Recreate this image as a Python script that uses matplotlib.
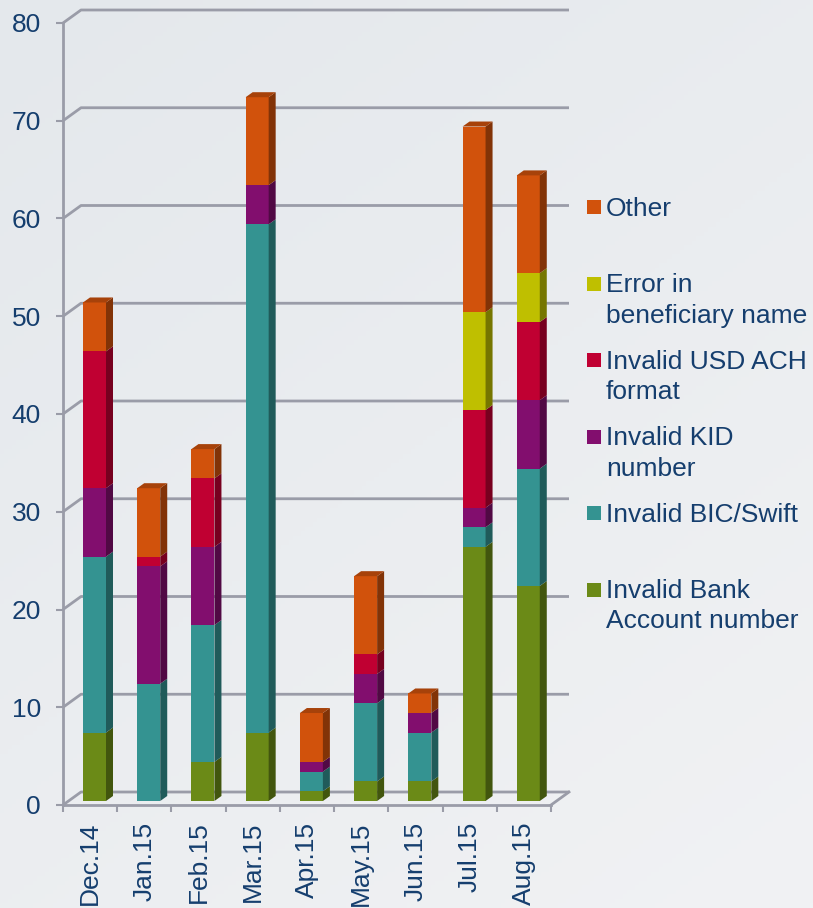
import numpy as np
import matplotlib.pyplot as plt
from matplotlib.patches import Polygon, Rectangle
from matplotlib.colors import to_rgb

plt.rcParams['font.family'] = ['Liberation Sans', 'DejaVu Sans']

months = ['Dec.14', 'Jan.15', 'Feb.15', 'Mar.15', 'Apr.15', 'May.15', 'Jun.15', 'Jul.15', 'Aug.15']
bank_account = [7, 0, 4, 7, 1, 2, 2, 26, 22]
bic_swift = [18, 12, 14, 52, 2, 8, 5, 2, 12]
kid_number = [7, 12, 8, 4, 1, 3, 2, 2, 7]
usd_ach = [14, 1, 7, 0, 0, 2, 0, 10, 8]
beneficiary = [0, 0, 0, 0, 0, 0, 0, 10, 5]
other = [5, 7, 3, 9, 5, 8, 2, 19, 10]

series = [bank_account, bic_swift, kid_number, usd_ach, beneficiary, other]
labels = ['Invalid Bank\nAccount number', 'Invalid BIC/Swift', 'Invalid KID\nnumber',
          'Invalid USD ACH\nformat', 'Error in\nbeneficiary name', 'Other']
colors = ['#6b8a17', '#349391', '#820e6e', '#c00032', '#bfbf00', '#d1520c']

text_col = '#153e6e'
grid_col = '#9a9ca8'
fs = 19

W, H = 813, 908
fig = plt.figure(figsize=(W / 100, H / 100), dpi=100)

# background gradient
bg = fig.add_axes([0, 0, 1, 1], zorder=-10)
yy, xx = np.mgrid[0:1:200j, 0:1:200j]
t = 0.6 * yy + 0.4 * xx
c0 = np.array(to_rgb('#e4e8ec'))
c1 = np.array(to_rgb('#f1f2f4'))
img = c0[None, None, :] * (1 - t[..., None]) + c1[None, None, :] * t[..., None]
bg.imshow(img, aspect='auto', extent=[0, 1, 0, 1])
bg.axis('off')

# axes: x 0..9 -> px 63..551, y 0..80 -> px 805..23
left, right, bottom, top = 63, 551, 805, 23
ax = fig.add_axes([left / W, 1 - bottom / H, (right - left) / W, (bottom - top) / H])
ax.patch.set_alpha(0)
ax.set_xlim(0, 9)
ax.set_ylim(0, 80)

px_x = (right - left) / 9
px_y = (bottom - top) / 80

# back wall offset
wdx, wdy = 18 / px_x, 13 / px_y
for v in range(0, 81, 10):
    ax.plot([0, wdx, 9 + wdx], [v, v + wdy, v + wdy], color=grid_col, lw=2,
            clip_on=False, zorder=1, solid_capstyle='butt')
ax.plot([9, 9 + wdx], [0, wdy], color=grid_col, lw=2, clip_on=False, zorder=1)

# bars
bar_off = 20 / px_x
bar_w = 23 / px_x
base = 4 / px_y
ddx, ddy = 7 / px_x, 5 / px_y


def shade(c, f):
    return tuple(np.array(to_rgb(c)) * f)


cum = np.zeros(len(months))
tops = np.array([sum(s[i] for s in series) for i in range(len(months))])
for vals, col in zip(series, colors):
    vals = np.array(vals, dtype=float)
    for i, v in enumerate(vals):
        if v <= 0:
            continue
        xl = i + bar_off
        xr = xl + bar_w
        b = base + cum[i]
        tp = b + v
        ax.bar(xl, v, width=bar_w, bottom=b, align='edge', color=col,
               edgecolor='none', zorder=3)
        ax.add_patch(Polygon([(xr, b), (xr + ddx, b + ddy), (xr + ddx, tp + ddy), (xr, tp)],
                             closed=True, facecolor=shade(col, 0.62), edgecolor='none', zorder=3))
        if cum[i] + v == tops[i]:
            ax.add_patch(Polygon([(xl, tp), (xl + ddx, tp + ddy), (xr + ddx, tp + ddy), (xr, tp)],
                                 closed=True, facecolor=shade(col, 0.8), edgecolor='none',
                                 zorder=3))
    cum += vals

# spines and ticks
for s in ['top', 'right']:
    ax.spines[s].set_visible(False)
for s in ['left', 'bottom']:
    ax.spines[s].set_color(grid_col)
    ax.spines[s].set_linewidth(2)

ax.set_yticks(range(0, 81, 10))
ax.tick_params(axis='y', length=5, width=1.5, color=grid_col, pad=11,
               labelsize=fs, labelcolor=text_col)
ax.set_xticks(range(10))
ax.set_xticklabels([])
ax.tick_params(axis='x', which='major', length=5, width=1.5, color=grid_col)
ax.set_xticks(np.arange(9) + 0.5, minor=True)
ax.set_xticklabels(months, minor=True, rotation=90)
ax.tick_params(axis='x', which='minor', length=0, pad=12, labelsize=fs, labelcolor=text_col)

# legend, drawn by hand: square beside the first line of each label
leg_labels = labels[::-1]
leg_colors = colors[::-1]
for k, (lab, col) in enumerate(zip(leg_labels, leg_colors)):
    base_y = 216 + k * 76.5
    fig.add_artist(Rectangle((587 / W, 1 - (base_y - 2) / H), 14 / W, 14 / H,
                             transform=fig.transFigure, facecolor=col, edgecolor='none'))
    for j, line in enumerate(lab.split('\n')):
        fig.text(606 / W, 1 - (base_y + 30 * j) / H, line, fontsize=fs, color=text_col,
                 va='baseline', ha='left')

fig.savefig('out.png', dpi=100)
